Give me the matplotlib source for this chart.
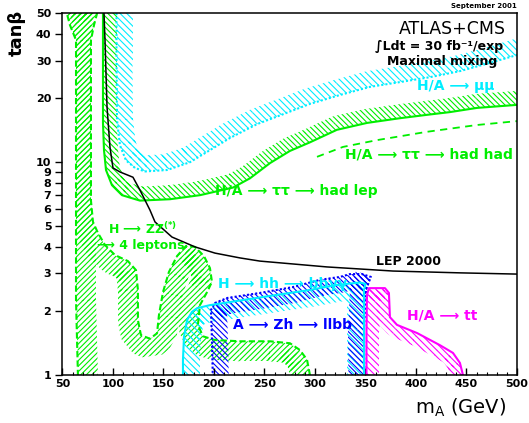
import numpy as np
import matplotlib
matplotlib.use('Agg')
import matplotlib.pyplot as plt
from matplotlib.collections import PolyCollection
from matplotlib.patches import Polygon
from matplotlib.ticker import MultipleLocator, NullLocator

# contours: m_A (GeV) and tan(beta)
lep_mA = [91.1, 92.1, 94.1, 97.0, 100.0, 106.9, 119.8, 126.7, 136.6, 141.6, 158.4,
          181.2, 201.0, 225.7, 245.5, 311.8, 377.2, 443.5, 500.0]
lep_tb = [50.0, 37.5, 18.2, 11.8, 9.4, 9.0, 8.5, 7.4, 5.96, 5.24, 4.45,
          4.0, 3.74, 3.55, 3.43, 3.22, 3.08, 3.02, 2.98]

taulep_mA = [90.1, 90.1, 90.1, 91.1, 93.1, 99.0, 108.9, 126.7, 156.4, 186.1, 218.8,
             235.6, 255.4, 275.2, 295.0, 321.7, 351.5, 384.1, 410.9, 433.6, 460.4, 500.0, 510.0]
taulep_tb = [54.8, 30.2, 15.3, 11.4, 9.19, 7.8, 7.0, 6.6, 6.7, 7.0, 7.6,
             8.4, 9.9, 11.3, 12.4, 14.2, 15.3, 16.1, 16.7, 17.2, 18.0, 18.6, 18.8]

tauhad_mA = [302.0, 327.7, 361.4, 410.9, 460.4, 500.0]
tauhad_tb = [10.6, 11.8, 12.7, 13.9, 14.96, 15.6]

mumu_mA = [103.5, 103.5, 104.0, 106.9, 112.9, 121.8, 131.7, 153.5, 176.2, 196.0, 215.8,
           242.6, 268.3, 295.0, 324.7, 354.4, 384.1, 413.8, 443.5, 473.2, 500.0, 510.0]
mumu_tb = [55.0, 30.2, 15.8, 12.0, 10.2, 9.4, 9.05, 9.19, 10.0, 11.4, 13.0,
           15.1, 16.8, 18.8, 20.7, 22.6, 23.8, 25.1, 26.8, 29.3, 31.9, 33.0]

hh_mA = [348.5, 348.5, 348.5, 348.5, 350.0, 344.5, 321.7, 295.0, 262.4, 228.7, 196.0,
         183.2, 178.2, 173.3, 170.3, 169.3, 169.3]
hh_tb = [0.9, 1.055, 1.81, 2.5, 2.68, 2.72, 2.65, 2.51, 2.38, 2.25, 2.13,
         2.06, 1.98, 1.81, 1.51, 1.18, 0.9]

zh_mA = [349.0, 348.5, 350.5, 353.4, 355.4, 346.5, 334.6, 324.7, 304.9, 278.2, 245.5,
         212.9, 201.0, 197.0, 198.0, 199.0]
zh_tb = [0.9, 1.63, 2.51, 2.74, 2.89, 2.98, 2.98, 2.89, 2.80, 2.59, 2.43,
         2.30, 2.18, 2.02, 1.46, 0.9]

tt_mA = [446.5, 446.5, 443.5, 436.6, 423.8, 401.0, 381.2, 374.2, 373.2, 369.3, 353.4,
         351.5, 351.0, 351.0]
tt_tb = [0.9, 1.0, 1.14, 1.27, 1.38, 1.575, 1.72, 1.87, 2.43, 2.56, 2.56,
         2.38, 1.63, 0.9]

zz_mA = [295.0, 295.0, 292.1, 285.1, 275.2, 255.4, 225.7, 201.0, 189.1, 184.1, 186.1,
         193.1, 198.0, 196.0, 190.1, 181.2, 172.3, 163.4, 155.4, 149.5, 145.5, 143.6,
         136.6, 127.7, 124.7, 124.7, 122.8, 114.8, 102.0, 92.1, 85.1, 80.2, 78.2,
         78.2, 78.2, 81.2, 84.2, 83.2, 69.3, 55.4, 54.5, 57.4, 63.4, 63.4, 63.4, 65.3, 65.3]
zz_tb = [0.9, 1.0, 1.18, 1.31, 1.41, 1.44, 1.44, 1.46, 1.52, 1.72, 2.13,
         2.45, 2.74, 3.18, 3.62, 4.0, 4.04, 3.62, 3.05, 2.45, 1.91, 1.57,
         1.48, 1.54, 1.81, 2.51, 3.11, 3.43, 3.66, 4.08, 4.65, 5.24, 6.6,
         19.6, 37.5, 44.1, 50.0, 56.0, 57.8, 56.0, 49.7, 44.1, 37.5, 11.4, 2.25, 1.0, 0.9]

yticks = [1, 2, 3, 4, 5, 6, 7, 8, 9, 10, 20, 30, 40, 50]

GREEN = '#00ee00'
CYAN = '#00eeff'
BLUE = '#0000ff'
MAGENTA = '#ff00ff'

plt.rcParams['font.family'] = ['DejaVu Sans']
plt.rcParams['font.weight'] = 'bold'
plt.rcParams['hatch.linewidth'] = 0.8
plt.rcParams['mathtext.default'] = 'regular'


def hatch_band(ax, mA, tb, width, color, hatch, clip=False):
    """hatched strip of given pixel width on the left side of the contour"""
    pts = ax.transData.transform(np.column_stack([mA, tb]))
    seg = np.diff(pts, axis=0)
    nrm = np.column_stack([-seg[:, 1], seg[:, 0]])
    nrm = nrm / np.hypot(nrm[:, 0], nrm[:, 1])[:, None] * width
    polys = [[pts[i], pts[i + 1], pts[i + 1] + nrm[i], pts[i] + nrm[i]] for i in range(len(seg))]
    polys += [[pts[i], pts[i] + nrm[i - 1], pts[i] + nrm[i]] for i in range(1, len(seg))]
    inv = ax.transData.inverted()
    polys = [inv.transform(np.array(p)) for p in polys]
    coll = PolyCollection(polys, facecolors='none', edgecolors=color,
                          linewidths=0, hatch=hatch, zorder=1)
    ax.add_collection(coll, autolim=False)
    if clip:
        coll.set_clip_path(Polygon(np.column_stack([mA, tb]), closed=True,
                                   transform=ax.transData))
    return coll


fig = plt.figure(figsize=(5.29, 4.23), dpi=100)
ax = fig.add_axes([0.1181, 0.1135, 0.8592, 0.8546])
ax.set_yscale('log')
ax.set_xlim(50, 500)
ax.set_ylim(1, 50)

ax.set_yticks(yticks, [str(t) for t in yticks])
ax.yaxis.set_minor_locator(NullLocator())
ax.xaxis.set_major_locator(MultipleLocator(50))
ax.xaxis.set_minor_locator(MultipleLocator(10))
ax.tick_params(axis='y', direction='out', length=5, width=1, labelsize=8, pad=3)
ax.tick_params(axis='x', which='major', direction='in', length=5, width=1, labelsize=8, pad=3)
ax.tick_params(axis='x', which='minor', direction='in', length=2.5, width=0.8)
for s in ax.spines.values():
    s.set_linewidth(1.1)

# hatched discovery bands
hatch_band(ax, zz_mA, zz_tb, 20, GREEN, '//////', clip=True)
hatch_band(ax, taulep_mA, taulep_tb, 14, GREEN, '\\\\\\\\\\\\')
hatch_band(ax, mumu_mA, mumu_tb, 16, CYAN, '\\\\\\\\\\')
hatch_band(ax, hh_mA, hh_tb, 17, CYAN, '\\\\\\\\\\')
hatch_band(ax, zh_mA, zh_tb, 16, BLUE, '\\\\\\\\\\\\')
hatch_band(ax, tt_mA, tt_tb, 13, MAGENTA, '\\\\\\\\\\')

# contour lines
ax.plot(zz_mA, zz_tb, color=GREEN, lw=1.5, ls=(0, (3, 1.5)))
ax.plot(taulep_mA, taulep_tb, color=GREEN, lw=1.5)
ax.plot(tauhad_mA, tauhad_tb, color=GREEN, lw=1.3, ls=(0, (4, 3)))
ax.plot(mumu_mA, mumu_tb, color=CYAN, lw=1.5, ls=(0, (1, 1)))
ax.plot(zh_mA, zh_tb, color=BLUE, lw=1.5, ls=(0, (1, 1)))
ax.plot(hh_mA, hh_tb, color=CYAN, lw=1.5)
ax.plot(tt_mA, tt_tb, color=MAGENTA, lw=1.5)
ax.plot(lep_mA, lep_tb, color='black', lw=1.1)

# labels
lab = dict(fontsize=10, va='center', ha='left')
ax.text(401, 22.8, 'H/A ⟶ μμ', color=CYAN, **lab)
ax.text(329.7, 10.9, 'H/A ⟶ ττ ⟶ had had', color=GREEN, **lab)
ax.text(201, 7.32, 'H/A ⟶ ττ ⟶ had lep', color=GREEN, **lab)
ax.text(95, 4.85, 'H ⟶ ZZ$^{(*)}$', color=GREEN, fontsize=9, va='center', ha='left')
ax.text(84.2, 4.08, '⟶ 4 leptons', color=GREEN, fontsize=9, va='center', ha='left')
ax.text(360.4, 3.40, 'LEP 2000', color='black', fontsize=9, va='center', ha='left')
ax.text(203.9, 2.68, 'H ⟶ hh ⟶ bbγγ', color=CYAN, **lab)
ax.text(218.8, 1.72, 'A ⟶ Zh ⟶ llbb', color=BLUE, **lab)
ax.text(391.1, 1.894, 'H/A ⟶ tt', color=MAGENTA, **lab)

ax.text(0.858, 0.958, 'ATLAS+CMS', transform=ax.transAxes, fontsize=12.5,
        fontweight='normal', ha='center', va='center')
ax.text(0.828, 0.91, '∫Ldt = 30 fb⁻¹/exp', transform=ax.transAxes, fontsize=9,
        ha='center', va='center')
ax.text(0.835, 0.866, 'Maximal mixing', transform=ax.transAxes, fontsize=9,
        ha='center', va='center')
fig.text(517 / 529, 1 - 6 / 423, 'September 2001', fontsize=5, ha='right', va='center')

ax.set_xlabel('m$_A$ (GeV)', fontsize=14, fontweight='normal', va='center')
ax.xaxis.set_label_coords(0.877, -0.091)
ax.set_ylabel('tanβ', fontsize=13, fontweight='bold', va='center')
ax.yaxis.set_label_coords(-0.100, 0.947)

fig.savefig('out.png', dpi=100)
